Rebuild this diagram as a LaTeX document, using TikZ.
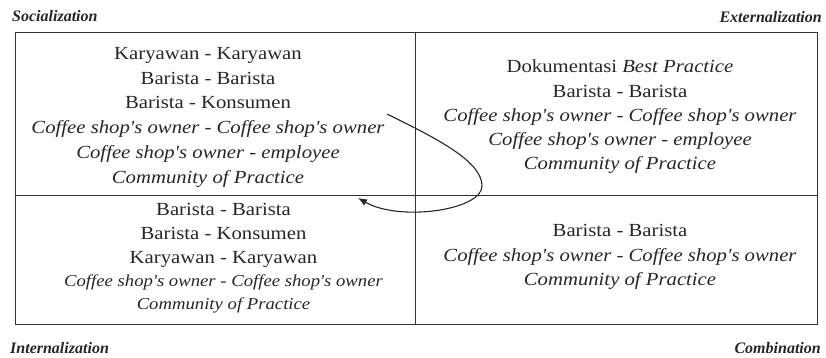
\documentclass[tikz,border=0pt]{standalone}
\usepackage{fontspec}
\setmainfont{Liberation Serif}[FakeStretch=1.12, Ligatures=TeXOff]
\newfontfamily\headfont{Liberation Serif}
\usetikzlibrary{arrows.meta}
\definecolor{ink}{HTML}{262626}
\definecolor{rule}{HTML}{333333}
\tikzset{
  cell/.style={draw=rule, line width=1.3pt, anchor=north west, inner sep=0pt},
  body/.style={anchor=base, inner sep=0pt, text=ink, font=\fontsize{18.5}{24}\selectfont},
  small/.style={anchor=base, inner sep=0pt, text=ink, font=\fontsize{16.7}{22}\selectfont\itshape},
  head/.style={inner sep=0pt, text=ink, font=\fontsize{16}{19}\headfont\bfseries\itshape},
  link/.style={draw=ink, line width=1.1pt, -{Latex[length=9pt,width=7pt]}}
}
\begin{document}
\begin{tikzpicture}[x=1pt,y=-1pt]
\useasboundingbox (0,0) rectangle (826,358);

% quadrants
\node[cell, minimum width=400pt, minimum height=163pt] (tl) at (15,32) {};
\node[cell, minimum width=402pt, minimum height=163pt] (tr) at (415,32) {};
\node[cell, minimum width=400pt, minimum height=129pt] (bl) at (15,195) {};
\node[cell, minimum width=402pt, minimum height=129pt] (br) at (415,195) {};

% corner headings
\node[head, anchor=base west] (soc) at (12,22) {Socialization};
\node[head, anchor=base east] (ext) at (822,23) {Externalization};
\node[head, anchor=base west] (int) at (10,353) {Internalization};
\node[head, anchor=base east] (com) at (821,353) {Combination};

% socialization
\node[body] (tl1) at (208,59.5) {Karyawan - Karyawan};
\node[body] (tl2) at (208,84.25) {Barista - Barista};
\node[body] (tl3) at (208,109) {Barista - Konsumen};
\node[body] (tl4) at (208,133.75) {\itshape Coffee shop's owner - Coffee shop's owner};
\node[body] (tl5) at (208,158.5) {\itshape Coffee shop's owner - employee};
\node[body] (tl6) at (208,183.25) {\itshape Community of Practice};

% externalization
\node[body] (tr1) at (620,73) {Dokumentasi \textit{Best Practice}};
\node[body] (tr2) at (620,97.25) {Barista - Barista};
\node[body] (tr3) at (620,121.5) {\itshape Coffee shop's owner - Coffee shop's owner};
\node[body] (tr4) at (620,145.75) {\itshape Coffee shop's owner - employee};
\node[body] (tr5) at (620,170) {\itshape Community of Practice};

% internalization
\node[body] (bl1) at (223.5,215) {Barista - Barista};
\node[body] (bl2) at (223.5,239.5) {Barista - Konsumen};
\node[body] (bl3) at (223.5,263.5) {Karyawan - Karyawan};
\node[small] (bl4) at (223.5,286.5) {Coffee shop's owner - Coffee shop's owner};
\node[small] (bl5) at (223.5,309) {Community of Practice};

% combination
\node[body] (br1) at (620,236.5) {Barista - Barista};
\node[body] (br2) at (620,261) {\itshape Coffee shop's owner - Coffee shop's owner};
\node[body] (br3) at (620,285) {\itshape Community of Practice};

% loop from socialization back into internalization
\coordinate (loopS) at (387,114);
\coordinate (loopM) at (482,186);
\coordinate (loopE) at (358,198);
\draw[link] (loopS) .. controls (440,140) and (482,162) .. (loopM)
  .. controls (482,210) and (400,222) .. (loopE);
\end{tikzpicture}
\end{document}
